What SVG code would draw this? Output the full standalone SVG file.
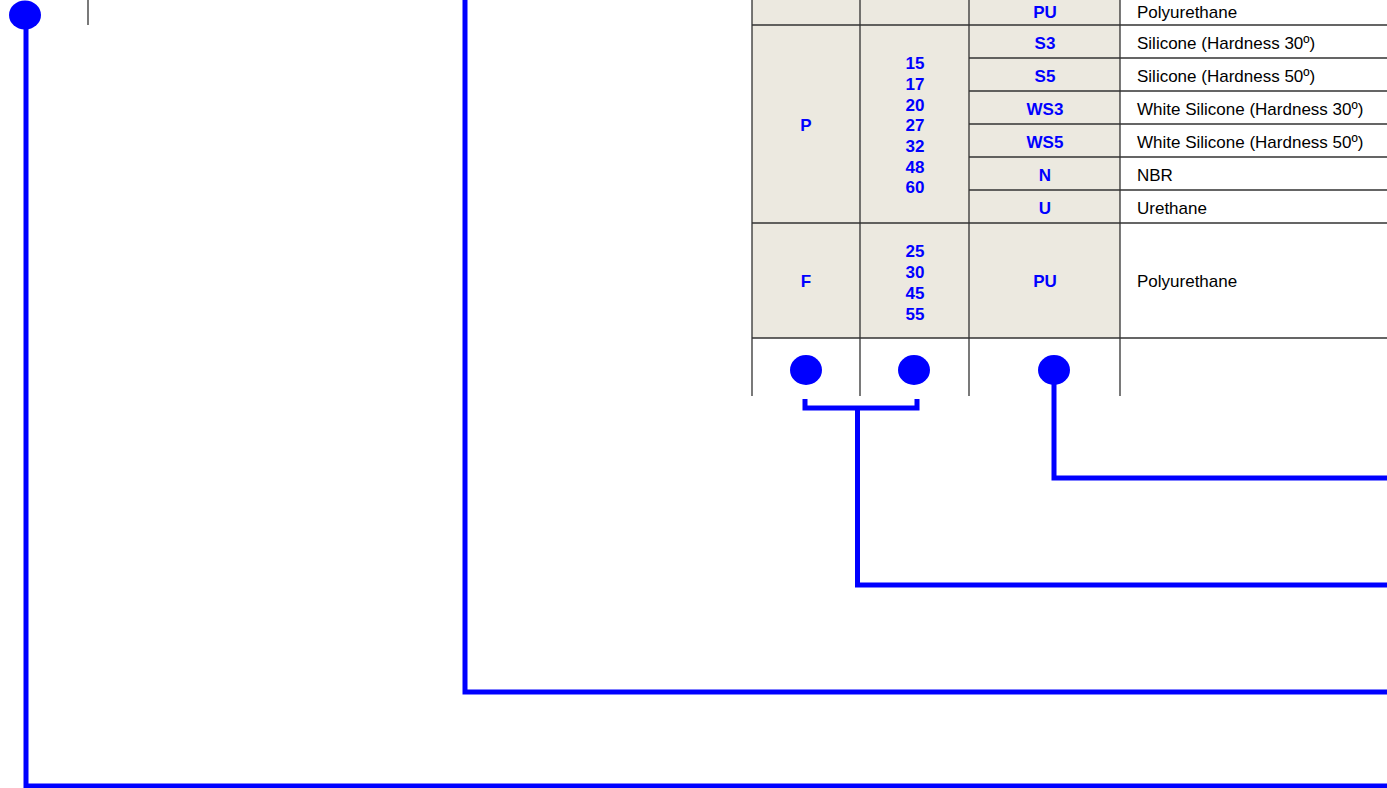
<svg xmlns="http://www.w3.org/2000/svg" width="1387" height="788" viewBox="0 0 1387 788">
<style>
.cell{fill:#ECE9E0}
.grid{stroke:#222;stroke-width:1.2;fill:none}
.hgrid{stroke:#333;stroke-width:1.4;fill:none}
.code{font-family:"Liberation Sans",Arial,sans-serif;font-weight:bold;font-size:17px;fill:#0000FF;text-anchor:middle}
.desc{font-family:"Liberation Sans",Arial,sans-serif;font-size:17px;fill:#000}
.conn{stroke:#0000FF;stroke-width:5;fill:none;stroke-linejoin:miter}
.dot{fill:#0000FF}
</style>
<rect width="1387" height="788" fill="#fff"/>
<g id="table">
<rect class="cell" x="752" y="0" width="368" height="338"/>
<g id="grid">
<path class="grid" d="M752 0V396M860 0V396M969 0V396M1120 0V396M88 0V25"/>
<path class="hgrid" d="M752 25H1387M969 58H1387M969 91H1387M969 124H1387M969 157H1387M969 190H1387M752 223H1387M752 338H1387"/>
</g>
<g id="row-top">
<text class="code" x="1045" y="18">PU</text>
<text class="desc" x="1137" y="18">Polyurethane</text>
</g>
<g id="row-P">
<text class="code" x="806" y="131">P</text>
<text class="code" x="915"><tspan x="915" y="69">15</tspan><tspan x="915" y="90">17</tspan><tspan x="915" y="111">20</tspan><tspan x="915" y="131">27</tspan><tspan x="915" y="152">32</tspan><tspan x="915" y="173">48</tspan><tspan x="915" y="193">60</tspan></text>
<text class="code" x="1045" y="49">S3</text>
<text class="desc" x="1137" y="49">Silicone (Hardness 30º)</text>
<text class="code" x="1045" y="82">S5</text>
<text class="desc" x="1137" y="82">Silicone (Hardness 50º)</text>
<text class="code" x="1045" y="115">WS3</text>
<text class="desc" x="1137" y="115">White Silicone (Hardness 30º)</text>
<text class="code" x="1045" y="148">WS5</text>
<text class="desc" x="1137" y="148">White Silicone (Hardness 50º)</text>
<text class="code" x="1045" y="181">N</text>
<text class="desc" x="1137" y="181">NBR</text>
<text class="code" x="1045" y="214">U</text>
<text class="desc" x="1137" y="214">Urethane</text>
</g>
<g id="row-F">
<text class="code" x="806" y="287">F</text>
<text class="code" x="915"><tspan x="915" y="257">25</tspan><tspan x="915" y="278">30</tspan><tspan x="915" y="299">45</tspan><tspan x="915" y="320">55</tspan></text>
<text class="code" x="1045" y="287">PU</text>
<text class="desc" x="1137" y="287">Polyurethane</text>
</g>
</g>
<g id="dot-1"><ellipse class="dot" cx="25" cy="15" rx="16" ry="14.5"/></g>
<g id="dot-2"><ellipse class="dot" cx="806" cy="370" rx="16" ry="15"/></g>
<g id="dot-3"><ellipse class="dot" cx="914" cy="370" rx="16" ry="15"/></g>
<g id="dot-4"><ellipse class="dot" cx="1054" cy="370" rx="16" ry="15"/></g>
<g id="connectors">
<path class="conn" d="M1054 370V478H1387"/>
<path class="conn" d="M805 399V408H917V399M857.5 408V585H1387"/>
<path class="conn" d="M465 0V692H1387"/>
<path class="conn" d="M26 15V786H1387"/>
</g>
</svg>
